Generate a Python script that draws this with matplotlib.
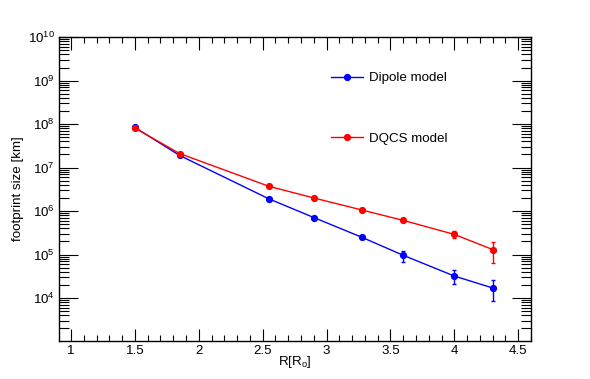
import matplotlib
matplotlib.use("Agg")
import matplotlib.pyplot as plt
from matplotlib.lines import Line2D
from matplotlib.ticker import (LogLocator, LogFormatterMathtext, MultipleLocator,
                               NullFormatter, FormatStrFormatter, FixedLocator)

plt.rcParams['font.family'] = ['Liberation Sans', 'DejaVu Sans']
plt.rcParams['mathtext.fontset'] = 'custom'
plt.rcParams['mathtext.rm'] = 'Liberation Sans'
plt.rcParams['mathtext.it'] = 'Liberation Sans'
plt.rcParams['mathtext.default'] = 'regular'

# Data
r_vals = [1.5, 1.85, 2.55, 2.9, 3.275, 3.6, 4.0, 4.3]
dipole = [8.4e7, 1.9e7, 1.9e6, 7.1e5, 2.5e5, 9.6e4, 3.2e4, 1.7e4]
dipole_err = [3e6, 6e5, 6e4, 3e4, 1.5e4, 2.7e4, 1.1e4, 8.5e3]
dqcs = [8.1e7, 2.1e7, 3.7e6, 2.0e6, 1.06e6, 6.1e5, 2.9e5, 1.3e5]
dqcs_err = [3e6, 7e5, 1.5e5, 9e4, 6e4, 6e4, 5e4, 6.5e4]
y_major_ticks = [1e4, 1e5, 1e6, 1e7, 1e8, 1e9, 1e10]
series_labels = ["Dipole model", "DQCS model"]
series_colors = [(0, 0, 1), (1, 0, 0)]
x_title = r"R[R$_\mathrm{o}$]"
y_title = "footprint size [km]"

fs = 9.6
fig = plt.figure(figsize=(5.90, 3.79), dpi=100)
ax = fig.add_axes([0.1, 0.1, 0.8, 0.802])

handles = []
for ys, es, c, lab in zip([dipole, dqcs], [dipole_err, dqcs_err], series_colors, series_labels):
    ax.errorbar(r_vals, ys, yerr=es, color=c, marker='o', ms=4.2,
                lw=1.0, elinewidth=1.0, capsize=1.5)
    handles.append(Line2D([], [], color=c, marker='o', ms=4.2, lw=1.0, label=lab))

ax.set_yscale('log')
ax.set_xlim(0.906, 4.6)
ax.set_ylim(1.02e3, 1e10)

ax.xaxis.set_major_locator(MultipleLocator(0.5))
ax.xaxis.set_minor_locator(MultipleLocator(0.1))
ax.xaxis.set_major_formatter(FormatStrFormatter('%g'))
ax.yaxis.set_major_locator(FixedLocator(y_major_ticks))
ax.yaxis.set_minor_locator(LogLocator(base=10, subs=range(2, 10), numticks=100))
ax.yaxis.set_major_formatter(LogFormatterMathtext())
ax.yaxis.set_minor_formatter(NullFormatter())

ax.tick_params(axis='both', which='both', direction='in', top=True, right=True,
               labelsize=fs, width=0.8, color='black')
ax.tick_params(axis='x', which='major', length=9, pad=3)
ax.tick_params(axis='x', which='minor', length=4.5)
ax.tick_params(axis='y', which='major', length=14, pad=3)
ax.tick_params(axis='y', which='minor', length=7)
for s in ax.spines.values():
    s.set_linewidth(1.0)

ax.set_xlabel(x_title, fontsize=fs, labelpad=-2)
ax.set_ylabel(y_title, fontsize=fs)
ax.yaxis.set_label_coords(-0.074, 0.5)

ax.legend(handles=handles, loc='center left', bbox_to_anchor=(0.563, 0.766), frameon=False,
          fontsize=fs, handlelength=2.35, handletextpad=0.5,
          labelspacing=3.6, borderpad=0, numpoints=1)

fig.savefig("out.png", dpi=100, facecolor='white')
